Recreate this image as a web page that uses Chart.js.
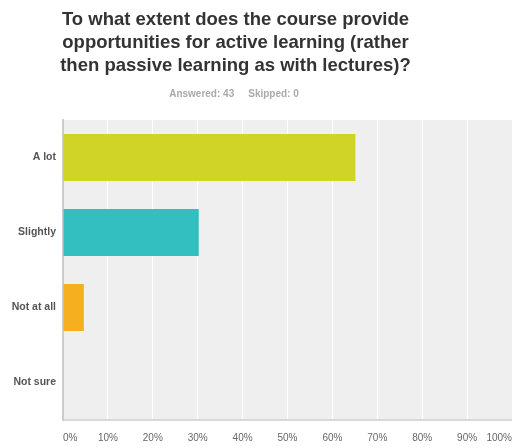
<!DOCTYPE html>
<html><head><meta charset="utf-8">
<script src="https://cdn.jsdelivr.net/npm/chart.js@4"></script>
<style>
html,body{margin:0;padding:0;background:#fff;}
#wrap{position:relative;width:512px;height:448px;overflow:hidden;}
#title{position:absolute;left:0;top:7px;width:471px;text-align:center;font:bold 18.5px "Liberation Sans",Arial,sans-serif;line-height:23px;color:#333;}
#sub{position:absolute;left:0;top:88px;width:468px;text-align:center;font:bold 10px "Liberation Sans",Arial,sans-serif;color:#aaa;}
#sub span+span{margin-left:14px;}
canvas{position:absolute;left:0;top:0;}
</style>
</head><body>
<div id="wrap">
<canvas id="c" width="512" height="448"></canvas>
<div id="title">To what extent does the course provide<br>opportunities for active learning (rather<br>then passive learning as with lectures)?</div>
<div id="sub"><span>Answered: 43</span><span>Skipped: 0</span></div>
</div>
<script>
const categories = ['A lot', 'Slightly', 'Not at all', 'Not sure'];
const percentages = [65.12, 30.23, 4.65, 0];
const barColors = ['#d0d426', '#33bec0', '#f6b01f', '#999999'];
const tickLabels = ['0%','10%','20%','30%','40%','50%','60%','70%','80%','90%','100%'];

const plotBg = {
  id: 'plotBg',
  beforeDraw(chart) {
    const {ctx, chartArea: a} = chart;
    ctx.save();
    ctx.fillStyle = '#efefef';
    ctx.fillRect(a.left, a.top, a.right - a.left, a.bottom - a.top);
    ctx.restore();
  }
};

new Chart(document.getElementById('c'), {
  type: 'bar',
  data: {
    labels: categories,
    datasets: [{
      data: percentages,
      backgroundColor: barColors,
      borderWidth: 0,
      barPercentage: 0.627,
      categoryPercentage: 1
    }]
  },
  options: {
    indexAxis: 'y',
    responsive: false,
    animation: false,
    layout: { padding: { top: 120, right: 0, left: 0, bottom: 0 } },
    plugins: { legend: { display: false }, tooltip: { enabled: false } },
    scales: {
      x: {
        min: 0, max: 100,
        afterFit(s) { s.height = 28; s.paddingLeft = 0; s.paddingRight = 0; },
        ticks: {
          stepSize: 10,
          align: 'inner',
          padding: 12,
          color: '#666',
          font: { family: '"Liberation Sans", Arial, sans-serif', size: 10 },
          callback: (v, i) => tickLabels[i]
        },
        grid: { color: '#ffffff', lineWidth: 1, drawTicks: false },
        border: { color: '#d8d8d8', width: 2 }
      },
      y: {
        afterFit(s) { s.width = 63; s.paddingTop = 0; s.paddingBottom = 0; },
        ticks: {
          padding: 7,
          color: '#555',
          font: { family: '"Liberation Sans", Arial, sans-serif', size: 10.5, weight: 'bold' }
        },
        grid: { display: false, drawTicks: false },
        border: { color: '#cccccc', width: 2 }
      }
    }
  },
  plugins: [plotBg]
});
</script>
</body></html>
